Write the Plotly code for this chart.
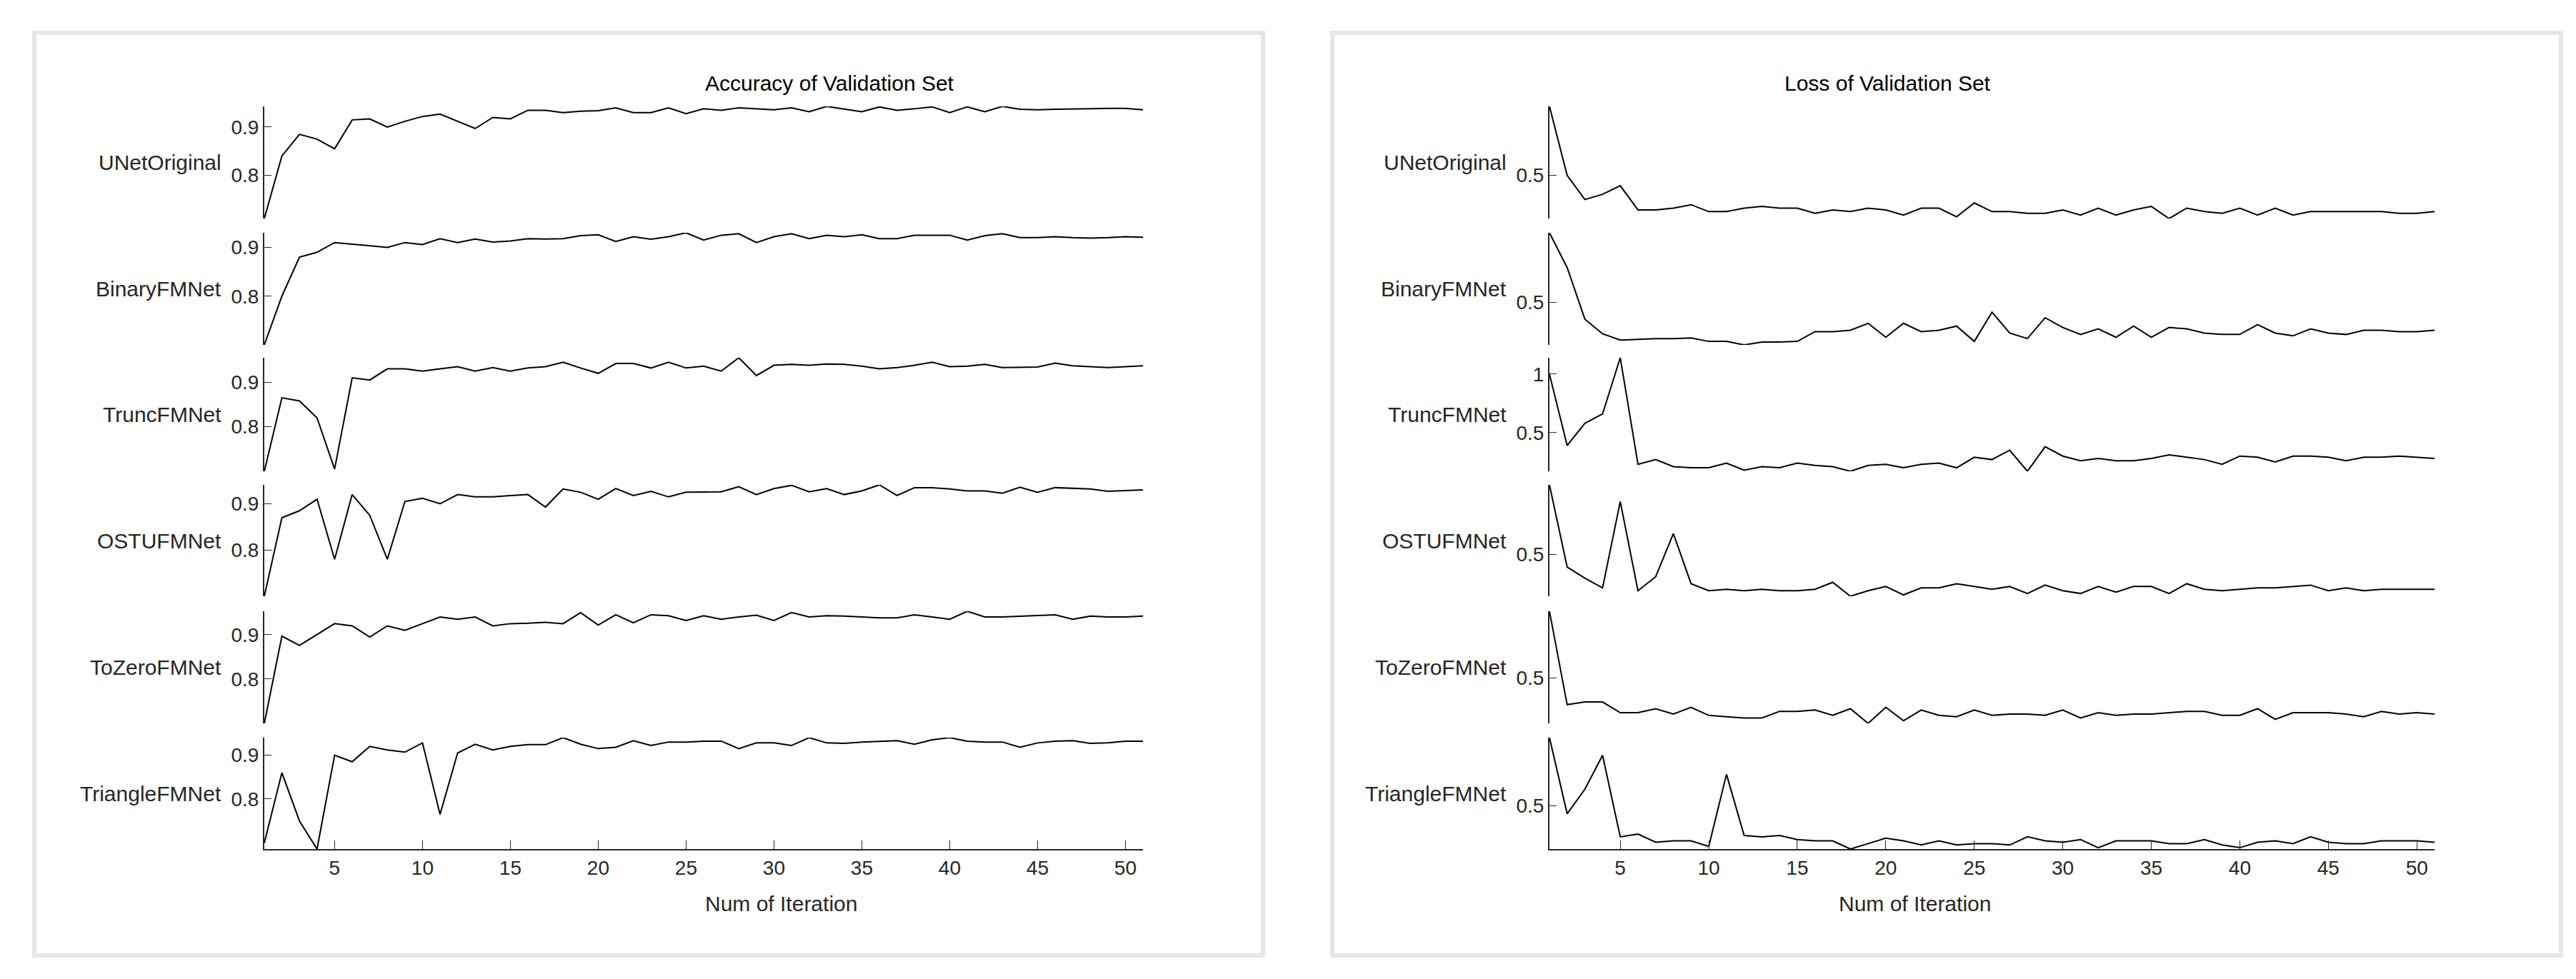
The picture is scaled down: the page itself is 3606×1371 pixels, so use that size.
import plotly.graph_objects as go

iters = list(range(1, 52))
models = ["UNetOriginal", "BinaryFMNet", "TruncFMNet", "OSTUFMNet", "ToZeroFMNet", "TriangleFMNet"]

acc_unet = [0.71,0.84,0.885,0.875,0.855,0.915,0.917,0.90,0.912,0.922,0.927,0.912,0.897,0.92,0.917,0.935,0.935,0.93,0.933,0.934,0.94,0.93,0.93,0.94,0.928,0.938,0.935,0.94,0.938,0.936,0.94,0.932,0.943,0.937,0.932,0.942,0.935,0.938,0.942,0.93,0.942,0.932,0.943,0.937,0.936,0.937,0.937,0.938,0.939,0.939,0.936]
acc_binary = [0.70,0.80,0.88,0.89,0.91,0.907,0.903,0.90,0.91,0.906,0.918,0.91,0.917,0.911,0.913,0.918,0.917,0.918,0.924,0.926,0.912,0.922,0.917,0.922,0.93,0.915,0.925,0.928,0.91,0.922,0.928,0.918,0.925,0.922,0.926,0.918,0.918,0.925,0.925,0.925,0.915,0.924,0.928,0.92,0.92,0.922,0.92,0.919,0.92,0.922,0.921]
acc_trunc = [0.70,0.865,0.858,0.82,0.705,0.91,0.905,0.93,0.93,0.925,0.93,0.935,0.925,0.933,0.925,0.932,0.935,0.945,0.932,0.92,0.942,0.942,0.932,0.945,0.932,0.936,0.925,0.955,0.915,0.938,0.94,0.938,0.941,0.94,0.936,0.93,0.933,0.938,0.945,0.935,0.936,0.94,0.933,0.934,0.934,0.943,0.937,0.935,0.933,0.935,0.937]
acc_ostu = [0.70,0.87,0.885,0.91,0.78,0.92,0.875,0.78,0.905,0.912,0.90,0.92,0.915,0.915,0.918,0.92,0.893,0.932,0.925,0.91,0.933,0.918,0.927,0.915,0.925,0.925,0.926,0.937,0.92,0.933,0.94,0.926,0.933,0.92,0.928,0.941,0.918,0.935,0.935,0.932,0.928,0.928,0.923,0.936,0.925,0.935,0.934,0.932,0.927,0.929,0.93]
acc_tozero = [0.70,0.897,0.876,0.90,0.925,0.92,0.895,0.92,0.91,0.925,0.94,0.935,0.94,0.92,0.925,0.926,0.928,0.925,0.95,0.922,0.945,0.927,0.945,0.943,0.932,0.943,0.935,0.94,0.944,0.932,0.95,0.94,0.943,0.942,0.94,0.938,0.938,0.945,0.94,0.935,0.953,0.94,0.94,0.942,0.943,0.945,0.935,0.942,0.94,0.94,0.942]
acc_triangle = [0.70,0.86,0.75,0.686,0.90,0.885,0.92,0.912,0.907,0.928,0.765,0.905,0.925,0.912,0.92,0.924,0.924,0.94,0.925,0.915,0.918,0.933,0.922,0.93,0.93,0.932,0.932,0.915,0.928,0.928,0.922,0.94,0.928,0.927,0.93,0.932,0.933,0.925,0.935,0.94,0.932,0.93,0.93,0.918,0.928,0.932,0.933,0.927,0.928,0.932,0.932]

loss_unet = [0.9,0.5,0.36,0.39,0.44,0.30,0.30,0.31,0.33,0.29,0.29,0.31,0.32,0.31,0.31,0.28,0.30,0.29,0.31,0.30,0.27,0.31,0.31,0.26,0.34,0.29,0.29,0.28,0.28,0.30,0.27,0.31,0.27,0.30,0.32,0.25,0.31,0.29,0.28,0.31,0.27,0.31,0.27,0.29,0.29,0.29,0.29,0.29,0.28,0.28,0.29]
loss_binary = [1.0,0.75,0.38,0.275,0.23,0.235,0.24,0.24,0.245,0.22,0.22,0.195,0.215,0.215,0.22,0.29,0.29,0.30,0.35,0.25,0.35,0.29,0.30,0.33,0.22,0.43,0.28,0.24,0.39,0.32,0.27,0.31,0.25,0.33,0.25,0.32,0.31,0.28,0.27,0.27,0.34,0.28,0.26,0.31,0.28,0.27,0.30,0.30,0.29,0.29,0.30]
loss_trunc = [1.0,0.39,0.58,0.66,1.14,0.23,0.27,0.21,0.20,0.20,0.24,0.18,0.21,0.20,0.24,0.22,0.21,0.17,0.22,0.23,0.20,0.23,0.24,0.20,0.29,0.27,0.35,0.17,0.38,0.30,0.26,0.28,0.26,0.26,0.28,0.31,0.29,0.27,0.23,0.30,0.29,0.25,0.30,0.30,0.29,0.26,0.29,0.29,0.30,0.29,0.28]
loss_ostu = [1.0,0.41,0.33,0.26,0.88,0.24,0.34,0.65,0.29,0.24,0.25,0.24,0.25,0.24,0.24,0.25,0.30,0.20,0.24,0.27,0.21,0.26,0.26,0.29,0.27,0.25,0.27,0.22,0.28,0.24,0.22,0.27,0.23,0.27,0.27,0.22,0.29,0.25,0.24,0.25,0.26,0.26,0.27,0.28,0.24,0.26,0.24,0.25,0.25,0.25,0.25]
loss_tozero = [1.0,0.30,0.32,0.32,0.24,0.24,0.27,0.23,0.28,0.22,0.21,0.20,0.20,0.25,0.25,0.26,0.22,0.27,0.16,0.28,0.18,0.26,0.22,0.21,0.26,0.22,0.23,0.23,0.22,0.26,0.20,0.24,0.22,0.23,0.23,0.24,0.25,0.25,0.22,0.22,0.27,0.19,0.24,0.24,0.24,0.23,0.21,0.25,0.23,0.24,0.23]
loss_triangle = [1.0,0.44,0.62,0.87,0.27,0.29,0.23,0.24,0.24,0.20,0.73,0.28,0.27,0.28,0.25,0.24,0.24,0.18,0.22,0.26,0.24,0.21,0.24,0.21,0.22,0.22,0.21,0.27,0.24,0.23,0.25,0.19,0.24,0.24,0.24,0.22,0.22,0.25,0.21,0.19,0.23,0.24,0.22,0.27,0.23,0.22,0.22,0.24,0.24,0.24,0.23]

acc_series = [acc_unet, acc_binary, acc_trunc, acc_ostu, acc_tozero, acc_triangle]
loss_series = [loss_unet, loss_binary, loss_trunc, loss_ostu, loss_tozero, loss_triangle]
acc_ticks = [[0.8, 0.9]] * 6
loss_ticks = [[0.5], [0.5], [0.5, 1], [0.5], [0.5], [0.5]]
xticks = [5, 10, 15, 20, 25, 30, 35, 40, 45, 50]

W, H = 3606, 1371
px = lambda x: x / W
py = lambda y: 1 - y / H
rows_px = [(141, 298), (318, 475), (493, 652), (671, 827), (848, 1005), (1025, 1181)]
panels = [
    dict(series=acc_series, ticks=acc_ticks, x0=362, x1=1592, box=(40, 1760), title="Accuracy of Validation Set"),
    dict(series=loss_series, ticks=loss_ticks, x0=2161, x1=3400, box=(1857, 3577), title="Loss of Validation Set"),
]

FONT = "Liberation Sans Narrow, Liberation Sans, Arial"
fig = go.Figure()
layout = dict(width=W, height=H, margin=dict(l=0, r=0, t=0, b=0), showlegend=False,
              plot_bgcolor="white", paper_bgcolor="white", font=dict(family=FONT, size=28, color="#262626"))
shapes, annotations = [], []
k = 0
for p in panels:
    shapes.append(dict(type="rect", xref="paper", yref="paper", x0=px(p["box"][0]), x1=px(p["box"][1]),
                       y0=py(1330), y1=py(38), line=dict(color="#e6e6e6", width=6)))
    cx = (p["x0"] + p["x1"]) / 2
    annotations.append(dict(text=p["title"], x=px(cx), y=py(108), xref="paper", yref="paper",
                            yanchor="middle", showarrow=False, font=dict(size=30, color="#000")))
    annotations.append(dict(text="Num of Iteration", x=px(cx), y=py(1257), xref="paper", yref="paper",
                            yanchor="middle", showarrow=False, font=dict(size=30, color="#262626")))
    for i, (ys, tv) in enumerate(zip(p["series"], p["ticks"])):
        k += 1
        xa, ya = f"xaxis{k}", f"yaxis{k}"
        last = i == 5
        fig.add_trace(go.Scatter(x=iters, y=ys, mode="lines", line=dict(color="black", width=2),
                                 xaxis=f"x{k}", yaxis=f"y{k}"))
        top, bot = rows_px[i]
        layout[xa] = dict(domain=[px(p["x0"]), px(p["x1"])], anchor=f"y{k}", range=[1, 51],
                          showgrid=False, zeroline=False, showline=last, linecolor="#262626", linewidth=2,
                          ticks="inside" if last else "", ticklen=12, tickcolor="#262626",
                          tickvals=xticks, showticklabels=last, tickfont=dict(size=28))
        layout[ya] = dict(domain=[py(bot), py(top)], anchor=f"x{k}", range=[min(ys), max(ys)],
                          showgrid=False, zeroline=False, showline=True, linecolor="#262626", linewidth=2,
                          ticks="inside", ticklen=10, tickcolor="#262626", tickvals=tv,
                          tickfont=dict(size=28))
        annotations.append(dict(text=models[i], x=px(p["x0"] - 58), y=py((top + bot) / 2),
                                xref="paper", yref="paper", xanchor="right", yanchor="middle",
                                showarrow=False, font=dict(size=30, color="#262626")))
layout["shapes"] = shapes
layout["annotations"] = annotations
fig.update_layout(**layout)
fig.write_html("out.html")
